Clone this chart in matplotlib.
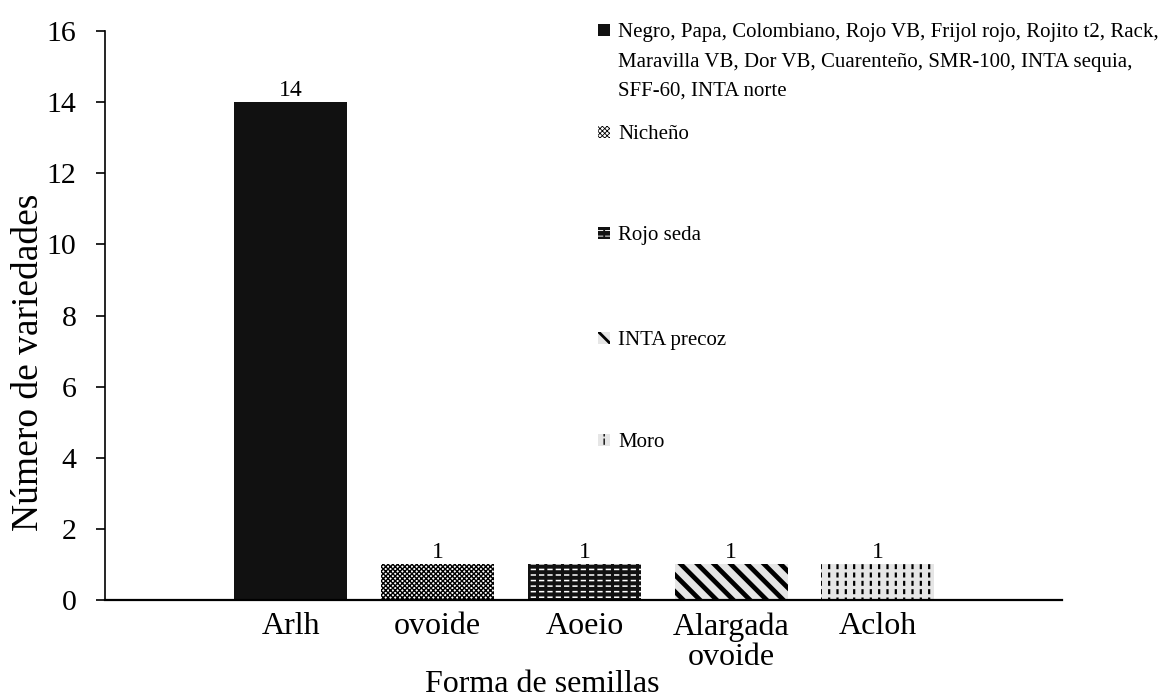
import matplotlib as mpl
import matplotlib.pyplot as plt
from matplotlib.patches import Rectangle

plt.rcParams['font.family'] = ['Liberation Serif', 'DejaVu Serif']

# seed shape categories and number of varieties in each
formas = ['Arlh', 'ovoide', 'Aoeio', 'Alargada\novoide', 'Acloh']
n_variedades = [14, 1, 1, 1, 1]
variedades = [
    'Negro, Papa, Colombiano, Rojo VB, Frijol rojo, Rojito t2, Rack,\n'
    'Maravilla VB, Dor VB, Cuarenteño, SMR-100, INTA sequia,\n'
    'SFF-60, INTA norte',
    'Nicheño',
    'Rojo seda',
    'INTA precoz',
    'Moro',
]

# fill / hatch layers for each bar: (facecolor, hatch, hatch colour, hatch lw)
estilos = [
    [('#111111', None, None, 0)],
    [('white', 'xxxxxxx', 'black', 1.0)],
    [('#111111', '---', 'white', 1.1), ('none', '||', '#111111', 2.2)],
    [('#e6e6e6', '\\\\', 'black', 3.4)],
    [('#e6e6e6', '||', 'black', 1.6), ('none', '--', '#e6e6e6', 2.4)],
]

W, H = 1169, 700
fig = plt.figure(figsize=(W / 100, H / 100), dpi=100)
ax = fig.add_axes([105 / W, 1 - 600 / H, (1062 - 105) / W, (600 - 31) / H])

x = list(range(len(formas)))
for i, capas in enumerate(estilos):
    for face, hatch, hcol, hlw in capas:
        with mpl.rc_context({'hatch.linewidth': hlw or 1.0,
                             'hatch.color': hcol or 'black'}):
            bars = ax.bar(x[i], n_variedades[i], width=0.77, color=face,
                          hatch=hatch, edgecolor=hcol if hatch else face,
                          linewidth=0)
    ax.bar_label(bars, fontsize=17, padding=1)

ax.set_xlim(-1.267, 5.254)
ax.set_ylim(0, 16)
ax.set_yticks(range(0, 17, 2))
ax.set_xticks(x)
ax.set_xticklabels(formas, linespacing=1.05)
ax.tick_params(axis='x', length=0, labelsize=23, pad=9)
ax.tick_params(axis='y', direction='out', length=6.5, width=1.2,
               labelsize=21.5, pad=14)
for s in ['top', 'right']:
    ax.spines[s].set_visible(False)
ax.spines['left'].set_linewidth(1.2)
ax.spines['bottom'].set_linewidth(1.6)
ax.set_xlabel('Forma de semillas', fontsize=23, va='center')
ax.xaxis.set_label_coords(0.457, -0.148)
ax.set_ylabel('Número de variedades', fontsize=27, va='center')
ax.yaxis.set_label_coords(-0.080, 0.418)

# legend built by hand, one entry per shape
leg_y = [30, 132, 233, 338, 440]
for i, (lab, capas) in enumerate(zip(variedades, estilos)):
    yc = leg_y[i]
    for face, hatch, hcol, hlw in capas:
        with mpl.rc_context({'hatch.linewidth': (hlw or 1.0) * 0.6,
                             'hatch.color': hcol or 'black'}):
            r = Rectangle((598 / W, 1 - (yc + 6) / H), 12 / W, 12 / H,
                          transform=fig.transFigure, facecolor=face,
                          hatch=hatch, edgecolor=hcol if hatch else face,
                          linewidth=0)
        fig.add_artist(r)
    fig.text(618 / W, 1 - (yc - 7) / H, lab, fontsize=15, va='top',
             ha='left', linespacing=1.75)

fig.savefig('out.png', dpi=100)
